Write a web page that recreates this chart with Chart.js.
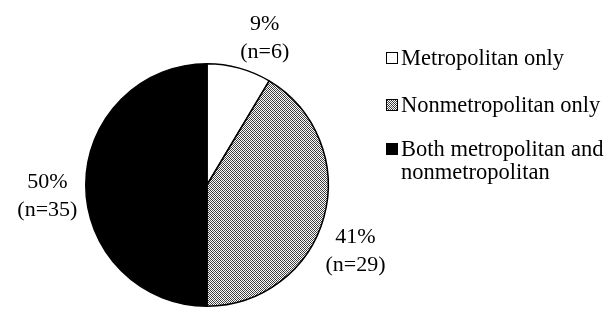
<!DOCTYPE html>
<html>
<head>
<meta charset="utf-8">
<script src="https://cdn.jsdelivr.net/npm/chart.js@4.4.1/dist/chart.umd.min.js"></script>
<style>
  html, body { margin: 0; padding: 0; background: #fff; }
  #wrap { position: relative; width: 613px; height: 312px; overflow: hidden; }
  #legend { position: absolute; left: 385px; top: 0; font-family: "Liberation Serif", "Times New Roman", serif; font-size: 22.5px; color: #000; line-height: 23px; }
  .item { position: absolute; padding-left: 16px; width: 240px; white-space: normal; }
  .box { position: absolute; left: 1px; top: 6px; width: 10px; height: 10px; border: 1px solid #000; box-sizing: content-box; }
</style>
</head>
<body>
<div id="wrap">
  <canvas id="c" width="613" height="312"></canvas>
  <div id="legend"></div>
</div>
<script>
const categories = ["Metropolitan only", "Nonmetropolitan only", "Both metropolitan and nonmetropolitan"];
const counts = [6, 29, 35];
const percentLabels = ["9%", "41%", "50%"];
const countLabels = ["(n=6)", "(n=29)", "(n=35)"];

function makeHatch() {
  const t = document.createElement('canvas');
  t.width = 4; t.height = 4;
  const g = t.getContext('2d');
  const D = '#303030', W = '#ffffff', G = '#5a5a5a';
  const grid = [
    [D, W, G, W],
    [W, D, W, G],
    [G, W, D, W],
    [W, G, W, D]
  ];
  for (let y = 0; y < 4; y++) for (let x = 0; x < 4; x++) { g.fillStyle = grid[y][x]; g.fillRect(x, y, 1, 1); }
  return t;
}
const hatchTile = makeHatch();
const ctx = document.getElementById('c').getContext('2d');
const hatch = ctx.createPattern(hatchTile, 'repeat');
const fills = ['#ffffff', hatch, '#000000'];

// label placement: polar position (degrees clockwise from top, distance in radius units)
const labelAngle = [21.5, 114, 266];
const labelDist = [1.30, 1.34, 1.32];

const labelPlugin = {
  id: 'pieLabels',
  afterDatasetsDraw(chart) {
    const meta = chart.getDatasetMeta(0);
    const c = chart.ctx;
    c.save();
    c.font = '22px "Liberation Serif", "Times New Roman", serif';
    c.fillStyle = '#000';
    c.textAlign = 'center';
    c.textBaseline = 'middle';
    meta.data.forEach((arc, i) => {
      const r = arc.outerRadius * labelDist[i];
      const a = labelAngle[i] * Math.PI / 180;
      const x = arc.x + r * Math.sin(a);
      const y = arc.y - r * Math.cos(a);
      c.fillText(percentLabels[i], x, y - 14);
      c.fillText(countLabels[i], x, y + 14);
    });
    c.restore();
  }
};

new Chart(ctx, {
  type: 'pie',
  data: {
    labels: categories,
    datasets: [{
      data: counts,
      backgroundColor: fills,
      borderColor: '#000',
      borderWidth: 1.5,
      hoverOffset: 0
    }]
  },
  options: {
    responsive: false,
    animation: false,
    layout: { padding: { left: 85, right: 284, top: 63, bottom: 5 } },
    plugins: { legend: { display: false }, tooltip: { enabled: false } }
  },
  plugins: [labelPlugin]
});

// legend
const leg = document.getElementById('legend');
const rowTops = [45.5, 92.5, 136.5];
categories.forEach((name, i) => {
  const d = document.createElement('div');
  d.className = 'item';
  d.style.top = rowTops[i] + 'px';
  const b = document.createElement('span');
  b.className = 'box';
  if (i === 0) b.style.background = '#fff';
  else if (i === 1) b.style.backgroundImage = 'url(' + hatchTile.toDataURL() + ')';
  else b.style.background = '#000';
  d.appendChild(b);
  const t = document.createElement('span');
  t.textContent = name;
  d.appendChild(t);
  leg.appendChild(d);
});
</script>
</body>
</html>
